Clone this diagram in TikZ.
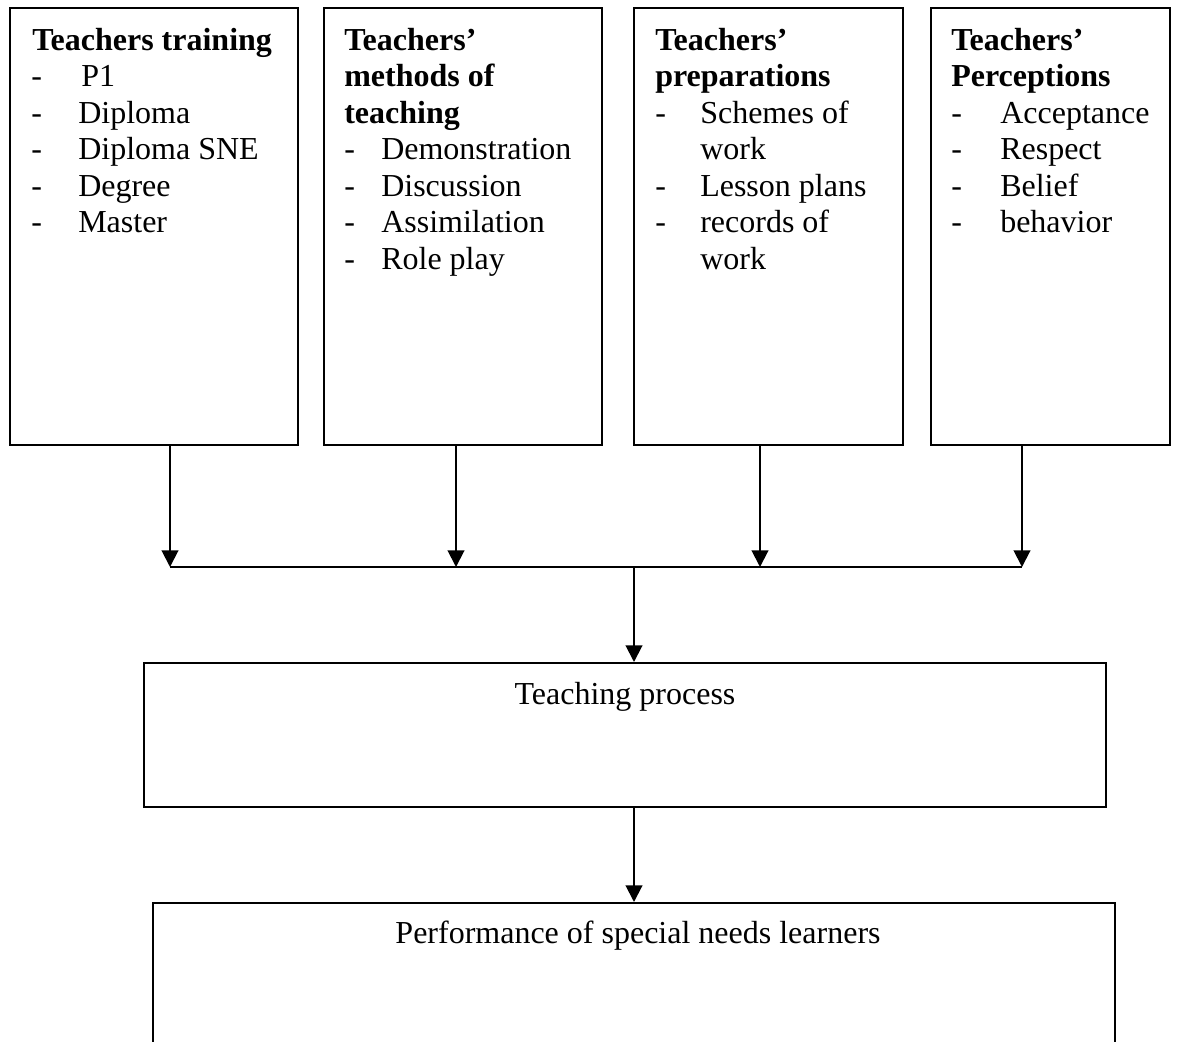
\documentclass[tikz,border=0pt]{standalone}
\usepackage{fontspec}
\setmainfont{Liberation Serif}
\usetikzlibrary{arrows.meta,fit}
\newcommand\mkline[5]{\node[#2] (#1) at (#3,{50+36.5*#4}) {#5};}
\begin{document}
\begin{tikzpicture}[x=0.75pt,y=-0.75pt,
  box/.style={draw,line width=1.5pt,inner sep=0pt},
  conn/.style={line width=1.5pt},
  arr/.style={line width=1.5pt,-{Triangle[width=12.5pt,length=12.5pt]}},
  txt/.style={anchor=base west,inner sep=0pt,font=\fontsize{24}{27.5}\selectfont},
  ttl/.style={txt,font=\fontsize{24}{27.5}\selectfont\bfseries},
  ctr/.style={anchor=base,inner sep=0pt,font=\fontsize{24}{27.5}\selectfont}]
\useasboundingbox (0,0) rectangle (1178,1042);
\clip (0,0) rectangle (1178,1042);

% top boxes
\node[box,fit={(10,8) (298,445)}] (b1) {};
\node[box,fit={(324,8) (602,445)}] (b2) {};
\node[box,fit={(634,8) (903,445)}] (b3) {};
\node[box,fit={(931,8) (1170,445)}] (b4) {};

% box 1 text
\mkline{t1a}{ttl}{32}{0}{Teachers training}
\mkline{d1b}{txt}{31}{1}{-}\mkline{t1b}{txt}{81}{1}{P1}
\mkline{d1c}{txt}{31}{2}{-}\mkline{t1c}{txt}{78}{2}{Diploma}
\mkline{d1d}{txt}{31}{3}{-}\mkline{t1d}{txt}{78}{3}{Diploma SNE}
\mkline{d1e}{txt}{31}{4}{-}\mkline{t1e}{txt}{78}{4}{Degree}
\mkline{d1f}{txt}{31}{5}{-}\mkline{t1f}{txt}{78}{5}{Master}

% box 2 text
\mkline{t2a}{ttl}{344}{0}{Teachers’}
\mkline{t2b}{ttl}{344}{1}{methods of}
\mkline{t2c}{ttl}{344}{2}{teaching}
\mkline{d2d}{txt}{344}{3}{-}\mkline{t2d}{txt}{381}{3}{Demonstration}
\mkline{d2e}{txt}{344}{4}{-}\mkline{t2e}{txt}{381}{4}{Discussion}
\mkline{d2f}{txt}{344}{5}{-}\mkline{t2f}{txt}{381}{5}{Assimilation}
\mkline{d2g}{txt}{344}{6}{-}\mkline{t2g}{txt}{381}{6}{Role play}

% box 3 text
\mkline{t3a}{ttl}{655}{0}{Teachers’}
\mkline{t3b}{ttl}{655}{1}{preparations}
\mkline{d3c}{txt}{655}{2}{-}\mkline{t3c}{txt}{700}{2}{Schemes of}
\mkline{t3d}{txt}{700}{3}{work}
\mkline{d3e}{txt}{655}{4}{-}\mkline{t3e}{txt}{700}{4}{Lesson plans}
\mkline{d3f}{txt}{655}{5}{-}\mkline{t3f}{txt}{700}{5}{records of}
\mkline{t3g}{txt}{700}{6}{work}

% box 4 text
\mkline{t4a}{ttl}{951}{0}{Teachers’}
\mkline{t4b}{ttl}{951}{1}{Perceptions}
\mkline{d4c}{txt}{951}{2}{-}\mkline{t4c}{txt}{1000}{2}{Acceptance}
\mkline{d4d}{txt}{951}{3}{-}\mkline{t4d}{txt}{1000}{3}{Respect}
\mkline{d4e}{txt}{951}{4}{-}\mkline{t4e}{txt}{1000}{4}{Belief}
\mkline{d4f}{txt}{951}{5}{-}\mkline{t4f}{txt}{1000}{5}{behavior}

% lower boxes
\node[box,fit={(144,663) (1106,807)}] (tp) {};
\node[ctr] (tpt) at (625,704) {Teaching process};
\node[box,fit={(153,903) (1115,1050)}] (perf) {};
\node[ctr] (perft) at (638,943) {Performance of special needs learners};

% connectors
\coordinate (j1) at (170,567);
\coordinate (j2) at (456,567);
\coordinate (j3) at (760,567);
\coordinate (j4) at (1022,567);
\coordinate (jm) at (634,567);
\draw[arr] (b1.south -| j1) -- (j1);
\draw[arr] (b2.south -| j2) -- (j2);
\draw[arr] (b3.south -| j3) -- (j3);
\draw[arr] (b4.south -| j4) -- (j4);
\draw[conn] (j1) -- (j4);
\draw[arr] (jm) -- (tp.north -| jm);
\draw[arr] (tp.south -| jm) -- (perf.north -| jm);
\end{tikzpicture}
\end{document}
